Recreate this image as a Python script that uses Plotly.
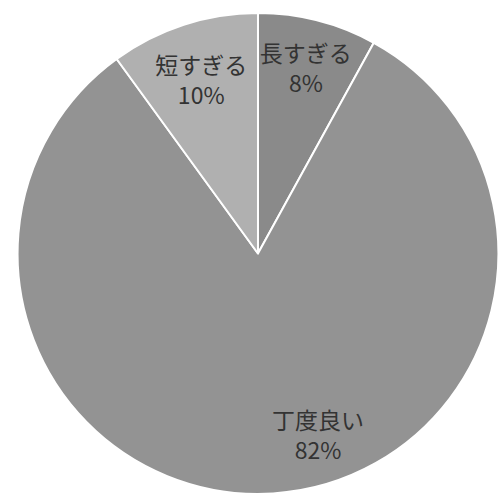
import plotly.graph_objects as go

labels = ["長すぎる", "丁度良い", "短すぎる"]
values = [8, 82, 10]
colors = ["#8a8a8a", "#939393", "#b0b0b0"]

total = sum(values)
FONT = dict(family="Noto Sans CJK JP", size=23, color="#333333")

fig = go.Figure(go.Pie(
    labels=labels,
    values=values,
    sort=False,
    direction="clockwise",
    rotation=0,
    marker=dict(colors=colors, line=dict(color="white", width=2)),
    texttemplate=["%{label}<br>%{percent}", "", "%{label}<br>%{percent}"],
    textposition="inside",
    insidetextorientation="horizontal",
    textfont=FONT,
    domain=dict(x=[0.034, 1.0], y=[0.02, 0.974]),
    showlegend=False,
    hoverinfo="label+percent",
))
# label of the large slice, placed in its lower-right part as in the reference
fig.add_annotation(
    x=0.637, y=0.139, xref="paper", yref="paper",
    xanchor="center", yanchor="middle",
    text=f"{labels[1]}<br>{values[1] / total:.0%}",
    showarrow=False, font=FONT, align="center",
)
fig.update_layout(
    width=499, height=504,
    margin=dict(l=0, r=0, t=0, b=0),
    paper_bgcolor="white",
    uniformtext=dict(minsize=23, mode="show"),
)
fig.write_html(
    "out.html",
    config={"displayModeBar": False},
    post_script="document.body.style.margin='0';document.body.style.overflow='hidden';",
)
